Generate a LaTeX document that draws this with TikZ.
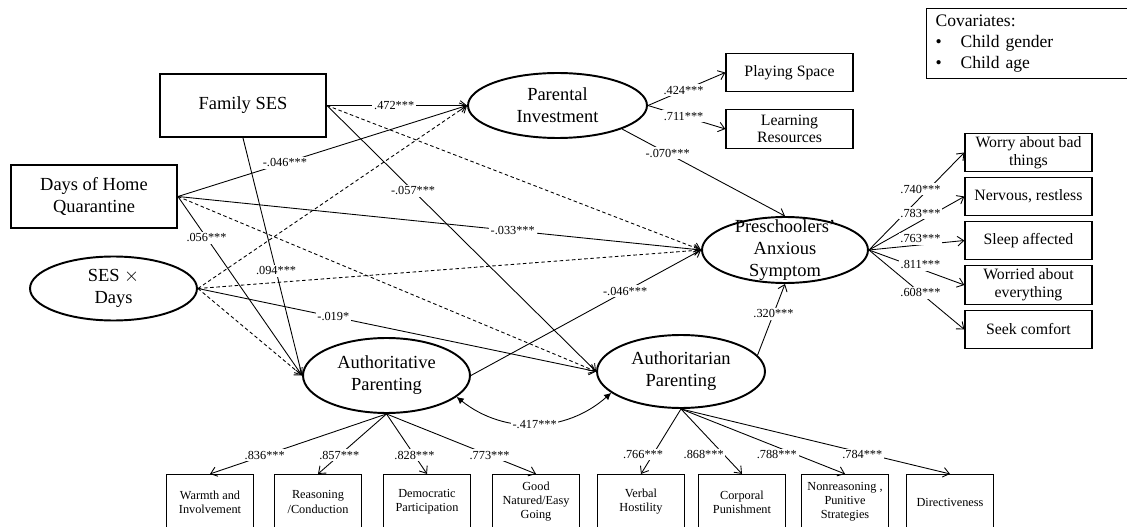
\documentclass[tikz,border=0pt]{standalone}
\usepackage{fontspec}
\setmainfont{Liberation Serif}
\usetikzlibrary{arrows.meta,shapes}

\begin{document}
\begin{tikzpicture}[x=0.02cm, y=-0.02cm,
  >={Straight Barb[length=3.5pt,width=5.5pt]},
  every node/.style={align=center, font=\fontsize{10.5}{12.5}\selectfont},
  obsnode/.style={draw, rectangle, line width=1.1pt, minimum width=3.32cm, minimum height=1.26cm},
  latnode/.style={draw, ellipse, line width=1.1pt, inner sep=0pt},
  itemnode/.style={draw, rectangle, line width=0.75pt, minimum width=2.54cm, minimum height=0.77cm, inner sep=1pt, font=\fontsize{9}{10}\selectfont},
  subnode/.style={draw, rectangle, line width=0.65pt, minimum width=1.74cm, minimum height=1.1cm, inner sep=1pt, font=\fontsize{7}{8}\selectfont},
  coef/.style={fill=white, inner sep=1pt, font=\fontsize{7}{8}\selectfont},
  sig/.style={->, line width=0.5pt},
  nsig/.style={->, line width=0.5pt, dash pattern=on 2pt off 1.5pt}]

  \useasboundingbox (0,0) rectangle (1127,527);
  \clip (0,0) rectangle (1127,527);

  \node (fses) [obsnode] at (243,105.5) {Family SES};
  \node (days) [obsnode] at (94,196.5) {Days of Home\\Quarantine};
  \node (sxd) [latnode, minimum width=3.34cm, minimum height=1.28cm] at (113.5,288.5) {SES $\times$\\Days};
  \node (pinv) [latnode, minimum width=3.58cm, minimum height=1.3cm] at (557.5,105.5) {Parental\\Investment};
  \node (anx) [latnode, minimum width=3.32cm, minimum height=1.32cm] at (785,250) {};
  \node (anxtext) at (anx) {Preschoolers'\\Anxious\\Symptom};
  \node (auth1) [latnode, minimum width=3.34cm, minimum height=1.5cm] at (386.5,375.5) {Authoritative\\Parenting};
  \node (auth2) [latnode, minimum width=3.36cm, minimum height=1.46cm] at (681,371.5) {Authoritarian\\Parenting};

  \node (play) [itemnode] at (789.5,72.5) {Playing Space};
  \node (learn) [itemnode] at (789.5,129) {Learning\\Resources};

  \node (worry) [itemnode] at (1028.5,152.5) {Worry about bad\\things};
  \node (nerv) [itemnode] at (1028.5,196.5) {Nervous, restless};
  \node (sleep) [itemnode] at (1028.5,240.5) {Sleep affected};
  \node (evth) [itemnode] at (1028.5,285) {Worried about\\everything};
  \node (comfort) [itemnode] at (1028.5,329.5) {Seek comfort};

  \node (warmth) [subnode] at (210,502) {Warmth and\\Involvement};
  \node (reason) [subnode] at (318,502) {Reasoning\\/Conduction};
  \node (democ) [subnode] at (427,502) {Democratic\\Participation};
  \node (goodn) [subnode] at (536,502) {Good\\Natured/Easy\\Going};
  \node (verbal) [subnode] at (641,502) {Verbal\\Hostility};
  \node (corporal) [subnode] at (742,502) {Corporal\\Punishment};
  \node (nonreas) [subnode] at (845,502) {Nonreasoning ,\\Punitive\\Strategies};
  \node (direct) [subnode] at (950,502) {Directiveness};

  \node (cov) [draw, line width=0.7pt, anchor=north west, align=left, text width=3.95cm,
    inner xsep=0.18cm, inner ysep=0.12cm, font=\fontsize{10}{12}\selectfont] at (926,8)
    {Covariates:\\\makebox[0.5cm][l]{\textbullet}Child gender\\\makebox[0.5cm][l]{\textbullet}Child age};

  \draw [nsig] (fses.east) -- (anx.west);
  \draw [nsig] (days.east) -- (auth2.west);
  \draw [nsig] (sxd.east) -- (pinv.west);
  \draw [nsig] (sxd.east) -- (anx.west);
  \draw [nsig] (sxd.east) -- (auth1.west);

  \draw [sig] (fses.east) -- node [coef, pos=.48] {.472***} (pinv.west);
  \draw [sig] (fses.east) -- node [coef, pos=.32] {-.057***} (auth2.west);
  \draw [sig] (fses.south) -- node [coef, pos=.56] {.094***} (auth1.west);
  \draw [sig] (days.east) -- node [coef, pos=.37] {-.046***} (pinv.west);
  \draw [sig] (days.east) -- node [coef, pos=.64] {-.033***} (anx.west);
  \draw [sig] (days.east) -- node [coef, pos=.23] {.056***} (auth1.west);
  \draw [sig] (sxd.east) -- node [coef, pos=.34] {-.019*} (auth2.west);
  \draw [sig] (pinv.-20) -- node [coef, pos=.28] {-.070***} (anx.north);
  \draw [sig] (auth1.east) -- node [coef, pos=.67] {-.046***} (anx.west);
  \draw [sig] (auth2.12) -- node [coef, pos=.58] {.320***} (anx.south);

  \draw [sig] (pinv.east) -- node [coef, pos=.46] {.424***} (play.west);
  \draw [sig] (pinv.east) -- node [coef, pos=.46] {.711***} (learn.west);

  \draw [sig] (anx.east) -- node [coef, pos=.54, yshift=.16cm] {.740***} (worry.west);
  \draw [sig] (anx.east) -- node [coef, pos=.54, yshift=.16cm] {.783***} (nerv.west);
  \draw [sig] (anx.east) -- node [coef, pos=.54, yshift=.12cm] {.763***} (sleep.west);
  \draw [sig] (anx.east) -- node [coef, pos=.54, yshift=.08cm] {.811***} (evth.west);
  \draw [sig] (anx.east) -- node [coef, pos=.54] {.608***} (comfort.west);

  \draw [sig] (auth1.south) -- node [coef, pos=.69] {.836***} (warmth.north);
  \draw [sig] (auth1.south) -- node [coef, pos=.69] {.857***} (reason.north);
  \draw [sig] (auth1.south) -- node [coef, pos=.69] {.828***} (democ.north);
  \draw [sig] (auth1.south) -- node [coef, pos=.69] {.773***} (goodn.north);

  \draw [sig] (auth2.south) -- node [coef, pos=.7, xshift=-.2cm] {.766***} (verbal.north);
  \draw [sig] (auth2.south) -- node [coef, pos=.7, xshift=-.4cm] {.868***} (corporal.north);
  \draw [sig] (auth2.south) -- node [coef, pos=.7, xshift=-.38cm] {.788***} (nonreas.north);
  \draw [sig] (auth2.south) -- node [coef, pos=.7, xshift=-.14cm] {.784***} (direct.north);

  \draw [{Latex[length=4pt,width=4pt]}-{Latex[length=4pt,width=4pt]}, line width=0.5pt]
    (auth1.-17) to [bend right=40] node [coef] {-.417***} (auth2.-163);
\end{tikzpicture}
\end{document}
